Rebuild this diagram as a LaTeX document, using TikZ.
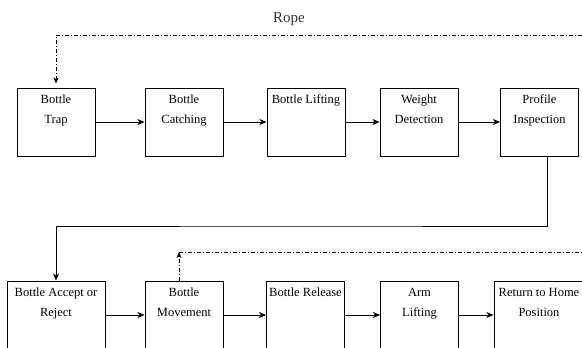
\documentclass[tikz,border=0pt]{standalone}
\usepackage{fontspec}
\setmainfont{Liberation Serif}
\usetikzlibrary{arrows.meta}
\tikzset{%
	stage/.style = {draw, line width=1pt, rectangle, inner xsep=1pt, inner ysep=4pt,
		minimum height=68pt, minimum width=78pt,
		font=\fontsize{12.5}{20}\selectfont}, % process block
	flow/.style  = {draw, line width=0.8pt, -{Stealth[length=7pt,width=6pt,inset=2pt]}}, % main flow
	rope/.style  = {draw, line width=0.7pt, dash pattern=on 4pt off 2pt on 1pt off 2pt} % rope
}
\newcommand{\stagetext}[2][76pt]{\parbox[c][60pt][t]{#1}{\centering\vspace*{3pt}#2}}

\begin{document}
\begin{tikzpicture}[x=1pt,y=-1pt]
                \useasboundingbox (0,0) rectangle (582,348);

                % top row
                \node[stage] (trap)    at (56,122)    {\stagetext{Bottle\\Trap}};
                \node[stage] (catch)   at (184,122)   {\stagetext{Bottle\\Catching}};
                \node[stage] (lift)    at (306,122)   {\stagetext{Bottle Lifting}};
                \node[stage] (weight)  at (419,122)   {\stagetext{Weight\\Detection}};
                \node[stage] (inspect) at (539.5,122) {\stagetext{Profile\\Inspection}};

                % bottom row
                \node[stage, minimum width=98pt] (accept) at (56,315)    {\stagetext[96pt]{Bottle Accept or\\Reject}};
                \node[stage] (move)    at (184,315)   {\stagetext{Bottle\\Movement}};
                \node[stage] (release) at (305.5,315) {\stagetext{Bottle Release}};
                \node[stage] (arm)     at (419.5,315) {\stagetext{Arm\\Lifting}};
                \node[stage, minimum width=90pt] (home) at (539,315) {\stagetext[88pt]{Return to Home\\Position}};

                \node[font=\fontsize{15}{17}\selectfont, text=black!80] (ropelbl) at (289,19) {Rope};

                \coordinate (ropeend)  at (582,35);
                \coordinate (turn)     at (300,226);
                \coordinate (corner)   at (179,252);
                \coordinate (ropeend2) at (582,252);

                \draw[flow] (trap)    -- (catch);
                \draw[flow] (catch)   -- (lift);
                \draw[flow] (lift)    -- (weight);
                \draw[flow] (weight)  -- (inspect);
                \draw[flow] ([xshift=8pt]inspect.south) |- (turn) -| (accept.north);
                \draw[flow] (accept)  -- (move);
                \draw[flow] (move)    -- (release);
                \draw[flow] (release) -- (arm);
                \draw[flow] (arm)     -- (home);

                \draw[rope, -{Stealth[length=6pt,width=5pt,inset=1.5pt]}, shorten >=4pt] (ropeend) -| (trap.north);
                \draw[rope, -{Stealth[length=6pt,width=5pt,inset=1.5pt]}] ([xshift=-5pt]move.north) -- (corner);
                \draw[rope] (corner) -- (ropeend2);
            \end{tikzpicture}
\end{document}
